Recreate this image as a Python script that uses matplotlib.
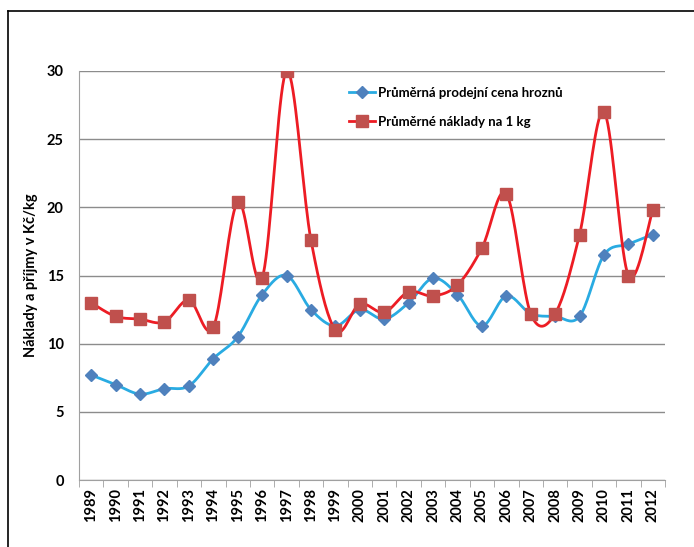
import numpy as np
import matplotlib
matplotlib.use("Agg")
import matplotlib.pyplot as plt
from matplotlib.lines import Line2D

plt.rcParams['font.family'] = ['Lato', 'DejaVu Sans']

years = [str(y) for y in range(1989, 2013)]
cena = [7.7, 7.0, 6.3, 6.7, 6.9, 8.9, 10.5, 13.6, 15.0, 12.5, 11.3, 12.5,
        11.8, 13.0, 14.8, 13.6, 11.3, 13.5, 12.2, 12.0, 12.0, 16.5, 17.3, 18.0]
naklady = [13.0, 12.0, 11.8, 11.6, 13.2, 11.2, 20.4, 14.8, 30.0, 17.6, 11.0, 12.9,
           12.3, 13.8, 13.5, 14.3, 17.0, 21.0, 12.2, 12.2, 18.0, 27.0, 15.0, 19.8]


def smooth(x, y, n=20):
    # excel-like smoothing (catmull-rom through the points)
    x = np.asarray(x, float)
    y = np.asarray(y, float)
    px = np.concatenate([[x[0]], x, [x[-1]]])
    py = np.concatenate([[y[0]], y, [y[-1]]])
    xs, ys = [], []
    t = np.linspace(0, 1, n)
    for i in range(1, len(px) - 2):
        p0, p1, p2, p3 = (np.array([px[j], py[j]]) for j in (i - 1, i, i + 1, i + 2))
        c1 = p1 + (p2 - p0) / 6
        c2 = p2 - (p3 - p1) / 6
        b = ((1 - t) ** 3)[:, None] * p1 + (3 * (1 - t) ** 2 * t)[:, None] * c1 \
            + (3 * (1 - t) * t ** 2)[:, None] * c2 + (t ** 3)[:, None] * p2
        xs.extend(b[:, 0])
        ys.extend(b[:, 1])
    return xs, ys


fig = plt.figure(figsize=(6.94, 5.47), dpi=100)
ax = fig.add_axes([79 / 694, 67 / 547, 586 / 694, 409 / 547])

x = np.arange(len(years))
bx, by = smooth(x, cena)
rx, ry = smooth(x, naklady)

blue_line = '#29abe2'
red_line = '#ed1c24'
ax.plot(bx, by, color=blue_line, lw=2.0, zorder=3, solid_capstyle='round')
ax.plot(x, cena, ls='none', marker='D', ms=6.5, color='#4f81bd', zorder=4)
ax.plot(rx, ry, color=red_line, lw=2.0, zorder=5, solid_capstyle='round')
ax.plot(x, naklady, ls='none', marker='s', ms=9, color='#c0504d', zorder=6)

ax.set_xlim(-0.5, len(years) - 0.5)
ax.set_ylim(0, 30)
ax.set_yticks([0, 5, 10, 15, 20, 25, 30])
ax.set_xticks(x)
ax.set_xticklabels(years, rotation=90, fontsize=10.5, fontweight='bold')
ax.set_xticks(np.arange(-0.5, len(years)), minor=True)
ax.tick_params(axis='x', which='major', length=0, pad=6)
ax.tick_params(axis='x', which='minor', length=5, color='#a0a0a0')
ax.tick_params(axis='y', length=0, labelsize=10.5, pad=11)
for lab in ax.get_yticklabels():
    lab.set_fontweight('bold')

ax.grid(axis='y', color='#8c8c8c', lw=1)
ax.set_axisbelow(True)
for s in ['top', 'right']:
    ax.spines[s].set_visible(False)
ax.spines['left'].set_color('#a0a0a0')
ax.spines['bottom'].set_color('#a0a0a0')

ax.set_ylabel('Náklady a příjmy v Kč/kg', fontsize=10.5, fontweight='bold', labelpad=6)

h1 = Line2D([], [], color=blue_line, lw=2.0, marker='D', ms=6.5,
            markerfacecolor='#4f81bd', markeredgecolor='#4f81bd')
h2 = Line2D([], [], color=red_line, lw=2.0, marker='s', ms=9,
            markerfacecolor='#c0504d', markeredgecolor='#c0504d')
ax.legend([h1, h2], ['Průměrná prodejní cena hroznů', 'Průměrné náklady na 1 kg'],
          loc='upper left', bbox_to_anchor=(0.44, 0.99), frameon=False,
          prop={'weight': 'bold', 'size': 9.5}, handlelength=2.0,
          handletextpad=0.2, labelspacing=1.3)

# chart area border (only top/left visible in the crop)
fig.add_artist(Line2D([8 / 694, 8 / 694], [0, 1 - 11 / 547], color='black', lw=1.2))
fig.add_artist(Line2D([8 / 694, 1], [1 - 11 / 547, 1 - 11 / 547], color='black', lw=1.2))

fig.savefig('out.png', dpi=100)
